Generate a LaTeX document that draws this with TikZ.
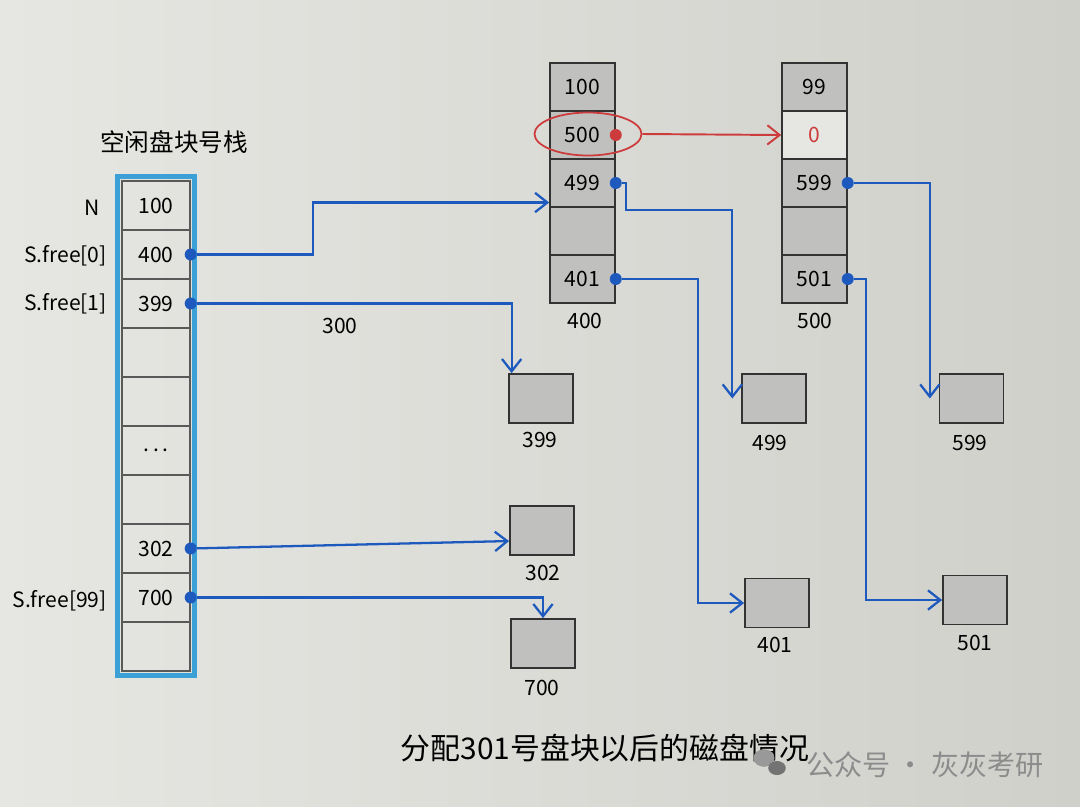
\documentclass[tikz,border=0pt]{standalone}
\usepackage{fontspec}
\setmainfont{Noto Sans CJK SC}
\usetikzlibrary{arrows.meta,shapes.geometric}
\definecolor{paper}{RGB}{230,230,226}
\definecolor{paperdark}{RGB}{208,208,203}
\definecolor{stackblue}{RGB}{60,160,215}
\definecolor{linkblue}{RGB}{30,90,190}
\definecolor{penred}{RGB}{205,60,60}
\definecolor{lead}{RGB}{192,192,190}
\tikzset{
  scell/.style={draw=black!65,line width=0.8pt,minimum width=1.36cm,minimum height=0.98cm,inner sep=0pt,font=\fontsize{12}{14}\selectfont},
  dcell/.style={draw=black!80,line width=0.9pt,fill=lead,minimum width=1.3cm,minimum height=0.96cm,inner sep=0pt,font=\fontsize{12}{14}\selectfont},
  blk/.style={draw=black!80,line width=1pt,fill=lead,minimum width=1.28cm,minimum height=0.98cm,inner sep=0pt},
  bullet/.style={circle,fill=#1,inner sep=0pt,minimum size=0.24cm},
  link/.style={linkblue,line width=1.3pt,-{Straight Barb[length=7pt,width=11pt]}},
  txt/.style={font=\fontsize{12}{14}\selectfont},
}
\begin{document}
\begin{tikzpicture}[x=0.02cm,y=-0.02cm]
  \shade[left color=paper,right color=paperdark] (0,0) rectangle (1080,806);
  % free block number stack
  \node[font=\fontsize{14}{16}\selectfont] (title) at (174,142) {空闲盘块号栈};
  \foreach \v [count=\i from 0] in {100,400,399,{},{},{.\,.\,.},{},302,700,{}}
    \node[scell] (s\i) at (156,{205.5+49*\i}) {\v};
  \draw[stackblue,line width=2.8pt] ([shift={(-2pt,2pt)}]s0.north west) rectangle ([shift={(2pt,-2pt)}]s9.south east);
  \node[txt,anchor=east] (lN) at (106,208) {N};
  \node[txt,anchor=east] (lf0) at (113,256) {S.free[0]};
  \node[txt,anchor=east] (lf1) at (113,304) {S.free[1]};
  \node[txt,anchor=east] (lf99) at (113,601) {S.free[99]};
  \foreach \i in {1,2,7,8} \node[bullet=linkblue] (d\i) at (s\i.east) {};
  % block 400
  \node[dcell] (a1) at (582.5,87) {100};
  \node[dcell] (a2) at (582.5,135) {500};
  \node[dcell] (a3) at (582.5,183) {499};
  \node[dcell] (a4) at (582.5,231) {};
  \node[dcell] (a5) at (582.5,279) {401};
  \node[txt] (la) at (585,321) {400};
  % block 500
  \node[dcell] (b1) at (814.5,87) {99};
  \node[dcell,fill=paper,text=penred] (b2) at (814.5,135) {0};
  \node[dcell] (b3) at (814.5,183) {599};
  \node[dcell] (b4) at (814.5,231) {};
  \node[dcell] (b5) at (814.5,279) {501};
  \node[txt] (lb) at (815,321) {500};
  \node[ellipse,draw=penred,line width=1pt,minimum width=2.14cm,minimum height=0.86cm] (hl) at (588,134) {};
  \node[bullet=penred] (rd) at (a2.east) {};
  \draw[penred,line width=1.1pt,-{Straight Barb[length=7pt,width=11pt]}] (hl.east) -- (b2.west);
  \foreach \n in {a3,a5,b3,b5} \node[bullet=linkblue] (d\n) at (\n.east) {};
  % free blocks
  \node[blk] (k399) at (541,398.5) {};
  \node[blk] (k499) at (774,398.5) {};
  \node[blk] (k599) at (971.5,398.5) {};
  \node[blk] (k302) at (542,530.5) {};
  \node[blk] (k700) at (543,643.5) {};
  \node[blk] (k401) at (777,603) {};
  \node[blk] (k501) at (975,600) {};
  \node[txt] (l399) at (540,440) {399};
  \node[txt] (l499) at (770,443) {499};
  \node[txt] (l599) at (970,443) {599};
  \node[txt] (l302) at (543,573) {302};
  \node[txt] (l700) at (542,688) {700};
  \node[txt] (l401) at (775,645) {401};
  \node[txt] (l501) at (975,643) {501};
  % links
  \draw[link] (d1) -- ++(122,0) |- ([yshift=3pt]a3.south west);
  \draw[link] (d2) -| ([xshift=2pt]k399.north west);
  \node[txt] (l300) at (340,326) {300};
  \draw[link] (d7) -- ([yshift=-6pt]k302.west);
  \draw[link] (d8) -| (k700.north);
  \draw[link] (da3) -- ++(10,0) -- ++(0,27) -| ([xshift=-5pt]k499.west);
  \draw[link] (da5) -- ++(82,0) |- (k401.west);
  \draw[link] (db3) -| ([xshift=-5pt]k599.west);
  \draw[link] (db5) -- ++(18,0) |- (k501.west);
  % caption
  \node[font=\fontsize{17}{20}\selectfont] (cap) at (605,748) {分配301号盘块以后的磁盘情况};
  \fill[black!40] (764,758) ellipse (6pt and 5pt);
  \fill[black!55] (777,768) ellipse (5pt and 4pt);
  \node[font=\fontsize{16}{18}\selectfont,text=black!45] (wm) at (925,765) {公众号 · 灰灰考研};
\end{tikzpicture}
\end{document}
